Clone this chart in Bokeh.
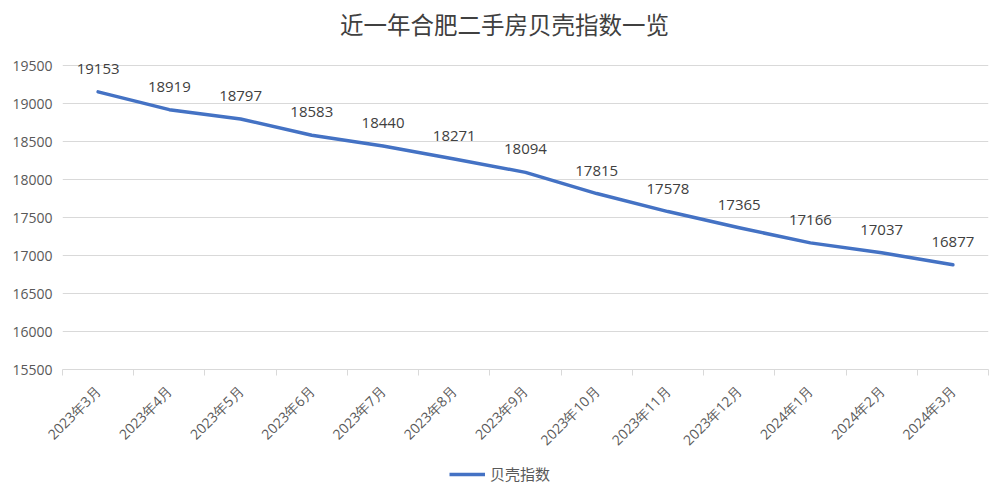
from bokeh.plotting import figure
from bokeh.models import (Range1d, FixedTicker, ColumnDataSource, LabelSet, Label, Legend, LegendItem)
from bokeh.layouts import column
from bokeh.core.properties import value
from bokeh.embed import file_html
from bokeh.resources import INLINE
import math

months = ["2023年3月", "2023年4月", "2023年5月", "2023年6月", "2023年7月", "2023年8月",
          "2023年9月", "2023年10月", "2023年11月", "2023年12月", "2024年1月", "2024年2月", "2024年3月"]
values = [19153, 18919, 18797, 18583, 18440, 18271, 18094, 17815, 17578, 17365, 17166, 17037, 16877]
y_ticks = [15500, 16000, 16500, 17000, 17500, 18000, 18500, 19000, 19500]
series_name = "贝壳指数"
title_text = "近一年合肥二手房贝壳指数一览"

LINE_COLOR = "#4472C4"
W = 991
LEFT = 62
TITLE_H = 50
MAIN_H = 410
LEG_H = 24
FRAME_H = 319          # frame height inside main figure
Y_MIN, Y_MAX_TICK = 15500, 19500
PX_PER_RANGE = 304     # pixels between 15500 and 19500
y_end = Y_MIN + FRAME_H * (Y_MAX_TICK - Y_MIN) / PX_PER_RANGE

xs = [i + 0.5 for i in range(len(months))]
src = ColumnDataSource(dict(x=xs, y=values, lab=[str(v) for v in values]))

# ---- title strip
tf = figure(width=W, height=TITLE_H, output_backend="svg", toolbar_location=None,
            x_range=Range1d(0, 1), y_range=Range1d(0, 1),
            x_axis_location=None, y_axis_location=None,
            min_border_left=0, min_border_right=0, min_border_top=0, min_border_bottom=0)
tf.grid.visible = False
tf.outline_line_color = None
tf.background_fill_color = "white"
tf.border_fill_color = "white"
tf.add_layout(Label(x=504 - LEFT, y=27, x_units="screen", y_units="screen", text=title_text,
                    text_align="center", text_baseline="middle", text_font="Noto Sans CJK SC",
                    text_font_size="23.5px", text_color="#404040"))

# ---- main chart
p = figure(width=W, height=MAIN_H, output_backend="svg", toolbar_location=None,
           x_range=Range1d(0, len(months)), y_range=Range1d(Y_MIN, y_end),
           min_border_left=LEFT, min_border_right=3, min_border_top=0,
           min_border_bottom=MAIN_H - FRAME_H)
p.background_fill_color = "white"
p.border_fill_color = "white"
p.outline_line_color = None

p.xaxis.ticker = FixedTicker(ticks=xs, minor_ticks=list(range(len(months) + 1)))
p.xaxis.major_label_overrides = {x: m for x, m in zip(xs, months)}
p.xaxis.major_label_orientation = math.pi / 4
p.xaxis.major_tick_out = 0
p.xaxis.major_tick_in = 0
p.xaxis.minor_tick_out = 6
p.xaxis.minor_tick_in = 0
p.xaxis.minor_tick_line_color = "#d9d9d9"
p.xaxis.axis_line_color = "#d9d9d9"
p.xaxis.major_label_text_font = "Open Sans"
p.xaxis.major_label_text_font_size = "14px"
p.xaxis.major_label_text_color = "#595959"
p.xaxis.major_label_standoff = 13

p.yaxis.ticker = FixedTicker(ticks=y_ticks)
p.yaxis.axis_line_color = None
p.yaxis.major_tick_out = 0
p.yaxis.major_tick_in = 0
p.yaxis.major_tick_line_color = None
p.yaxis.minor_tick_line_color = None
p.yaxis.major_label_text_font = "Open Sans"
p.yaxis.major_label_text_font_size = "14px"
p.yaxis.major_label_text_color = "#595959"
p.yaxis.major_label_standoff = 10

p.xgrid.grid_line_color = None
p.ygrid.grid_line_color = "#d9d9d9"

p.line("x", "y", source=src, line_color=LINE_COLOR, line_width=3.5, line_join="round", line_cap="round")

labels = LabelSet(x="x", y="y", text="lab", source=src, text_align="center", text_baseline="bottom",
                  y_offset=18, text_font=value("Open Sans"), text_font_size=value("15px"),
                  text_color=value("#404040"))
p.add_layout(labels)

# ---- legend strip
lf = figure(width=W, height=LEG_H, output_backend="svg", toolbar_location=None,
            x_range=Range1d(0, 1), y_range=Range1d(0, 1),
            x_axis_location=None, y_axis_location=None,
            min_border_left=0, min_border_right=0, min_border_top=0, min_border_bottom=0)
lf.grid.visible = False
lf.outline_line_color = None
lf.background_fill_color = "white"
lf.border_fill_color = "white"
lr = lf.line(x=[5, 6], y=[5, 6], line_color=LINE_COLOR, line_width=3.5)
legend = Legend(items=[LegendItem(label=series_name, renderers=[lr])], location=(449 - LEFT, 0),
                orientation="horizontal", border_line_color=None, background_fill_alpha=0,
                label_text_font="Noto Sans CJK SC", label_text_font_size="15px",
                label_text_color="#595959", glyph_width=36, glyph_height=16,
                margin=0, padding=3, label_standoff=5)
lf.add_layout(legend)

layout = column(tf, p, lf, spacing=0)
open("out.html", "w").write(file_html(layout, INLINE))
